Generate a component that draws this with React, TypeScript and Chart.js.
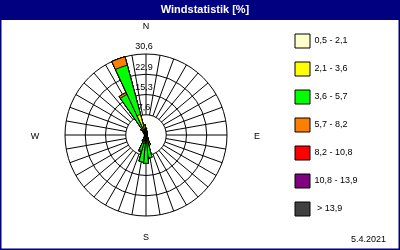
import React, { useEffect, useRef } from 'react';
import { Chart, registerables } from 'chart.js';

Chart.register(...registerables);

// ---------- data ----------
const DIRECTIONS = [0, 10, 20, 30, 40, 50, 60, 70, 80, 90, 100, 110, 120, 130, 140, 150, 160, 170,
  180, 190, 200, 210, 220, 230, 240, 250, 260, 270, 280, 290, 300, 310, 320, 330, 340, 350];

const CLASS_LABELS = ['0,5 - 2,1', '2,1 - 3,6', '3,6 - 5,7', '5,7 - 8,2', '8,2 - 10,8', '10,8 - 13,9', ' > 13,9'];
const CLASS_COLORS = ['#FFFFCC', '#FFFF00', '#00FF00', '#FF8000', '#FF0000', '#800080', '#404040'];

// share in % per direction (0°, 10°, ... 350°)
const SPEED_05_21 = [0.6, 0.5, 0.5, 0.4, 0.3, 0.3, 0.3, 0.3, 0.3, 0.3, 0.3, 0.3, 0.3, 0.3, 0.4, 0.5, 0.8, 1.0,
  1.0, 1.0, 0.8, 0.6, 0.5, 0.4, 0.4, 0.4, 0.4, 0.4, 0.4, 0.4, 0.5, 0.5, 0.6, 0.5, 0.6, 0.6];
const SPEED_21_36 = [1.2, 0.8, 0.5, 0.3, 0.2, 0.1, 0.1, 0.1, 0.1, 0.1, 0.1, 0.1, 0.1, 0.2, 0.3, 0.8, 1.5, 2.0,
  2.0, 2.0, 1.5, 1.0, 0.5, 0.2, 0.2, 0.2, 0.2, 0.2, 0.2, 0.2, 0.3, 0.6, 1.2, 2.5, 7.4, 2.9];
const SPEED_36_57 = [0.8, 0.3, 0.2, 0.1, 0, 0, 0, 0, 0, 0, 0, 0, 0, 0, 0, 0.5, 1.7, 5.7,
  7.7, 7.2, 3.8, 0.9, 0.2, 0, 0, 0, 0, 0, 0, 0, 0, 0.3, 1.0, 13.9, 19.3, 0.5];
const SPEED_57_82 = [0, 0, 0, 0, 0, 0, 0, 0, 0, 0, 0, 0, 0, 0, 0, 0, 0, 0,
  0, 0, 0.5, 0, 0, 0, 0, 0, 0, 0, 0, 0, 0, 0, 0, 0.8, 3.3, 0];
const SPEED_82_108 = [0, 0, 0, 0, 0, 0, 0, 0, 0, 0, 0, 0, 0, 0, 0, 0, 0, 0,
  0, 0, 0, 0, 0, 0, 0, 0, 0, 0, 0, 0, 0, 0, 0, 0, 0, 0];
const SPEED_108_139 = [0, 0, 0, 0, 0, 0, 0, 0, 0, 0, 0, 0, 0, 0, 0, 0, 0, 0,
  0, 0, 0, 0, 0, 0, 0, 0, 0, 0, 0, 0, 0, 0, 0, 0, 0, 0];
const SPEED_OVER_139 = [0, 0, 0, 0, 0, 0, 0, 0, 0, 0, 0, 0, 0, 0, 0, 0, 0, 0,
  0, 0, 0, 0, 0, 0, 0, 0, 0, 0, 0, 0, 0, 0, 0, 0, 0, 0];

const SPEED_CLASSES = [SPEED_05_21, SPEED_21_36, SPEED_36_57, SPEED_57_82, SPEED_82_108, SPEED_108_139, SPEED_OVER_139];

const SCALE_MAX = 30.6;
const TICK_LABELS = ['7,6', '15,3', '22,9', '30,6'];
const TITLE = 'Windstatistik [%]';
const COMPASS_N = 'N';
const COMPASS_S = 'S';
const COMPASS_W = 'W';
const COMPASS_E = 'E';
const DATE_LABEL = '5.4.2021';

const FONT = '"Liberation Sans", Arial, sans-serif';
const NAVY = '#000080';

// stacked (cumulative) values, one ring-sector series per class
const cumulative = SPEED_CLASSES.map((_, k) =>
  DIRECTIONS.map((__, i) => {
    let s = 0;
    for (let j = 0; j <= k; j++) s += SPEED_CLASSES[j][i];
    return Math.round(s * 100) / 100;
  })
);

const rosePlugin = {
  id: 'rosePlugin',
  beforeDraw(chart: any) {
    const { ctx, width, height } = chart;
    ctx.save();
    ctx.fillStyle = '#ffffff';
    ctx.fillRect(0, 0, width, height);
    ctx.fillStyle = NAVY;
    ctx.fillRect(0, 0, width, 20);
    ctx.fillRect(0, 0, 1.5, height);
    ctx.fillRect(width - 1.5, 0, 1.5, height);
    ctx.fillRect(0, height - 1.5, width, 1.5);
    ctx.fillStyle = '#ffffff';
    ctx.font = `bold 11px ${FONT}`;
    ctx.textAlign = 'center';
    ctx.textBaseline = 'middle';
    ctx.fillText(TITLE, width / 2 + 5, 10);
    ctx.restore();
  },
  beforeDatasetsDraw(chart: any) {
    const { ctx } = chart;
    const scale = chart.scales.r;
    const r0 = scale.getDistanceFromCenterForValue(scale.ticks[1].value);
    const r1 = scale.drawingArea;
    ctx.save();
    ctx.strokeStyle = '#000';
    ctx.lineWidth = 1;
    ctx.beginPath();
    DIRECTIONS.forEach((d) => {
      const a = (d * Math.PI) / 180;
      ctx.moveTo(scale.xCenter + r0 * Math.sin(a), scale.yCenter - r0 * Math.cos(a));
      ctx.lineTo(scale.xCenter + r1 * Math.sin(a), scale.yCenter - r1 * Math.cos(a));
    });
    ctx.stroke();
    ctx.restore();
  },
  afterDraw(chart: any) {
    const { ctx, width } = chart;
    const scale = chart.scales.r;
    ctx.save();
    ctx.fillStyle = '#000';
    ctx.font = `9px ${FONT}`;
    ctx.textAlign = 'center';
    ctx.textBaseline = 'middle';
    scale.ticks.forEach((tick: any, i: number) => {
      if (i === 0) return;
      const r = scale.getDistanceFromCenterForValue(tick.value);
      ctx.fillText(TICK_LABELS[i - 1], scale.xCenter - 2, scale.yCenter - r - 7);
    });
    const off = scale.drawingArea + 30;
    ctx.fillText(COMPASS_W, scale.xCenter - off, scale.yCenter + 2);
    ctx.fillText(COMPASS_E, scale.xCenter + off, scale.yCenter + 2);
    ctx.textAlign = 'right';
    ctx.fillText(DATE_LABEL, width - 14, 240);
    ctx.restore();
  },
};

export default function App() {
  const canvasRef = useRef<HTMLCanvasElement | null>(null);

  useEffect(() => {
    document.body.style.margin = '0';
    const canvas = canvasRef.current;
    if (!canvas) return;
    const chart = new Chart(canvas, {
      type: 'polarArea',
      data: {
        labels: DIRECTIONS.map((d) => String(d)),
        datasets: cumulative.map((values, k) => ({
          label: CLASS_LABELS[k],
          data: values,
          backgroundColor: CLASS_COLORS[k],
          borderColor: '#000000',
          borderWidth: 1,
        })),
      },
      options: {
        responsive: false,
        maintainAspectRatio: false,
        animation: false,
        devicePixelRatio: 1,
        events: [],
        layout: { padding: { top: 20, left: 11, right: 37, bottom: 0 } },
        scales: {
          r: {
            min: 0,
            max: SCALE_MAX,
            startAngle: -5,
            ticks: { display: false, count: 5 },
            grid: { circular: true, color: '#000000', lineWidth: 1 },
            angleLines: { display: false },
            pointLabels: { display: false },
          },
        },
        plugins: {
          title: {
            display: true,
            text: COMPASS_N,
            position: 'top',
            fullSize: false,
            color: '#000',
            font: { family: FONT, size: 9, weight: 'normal' },
            padding: { top: 1.6, bottom: 21.6 },
          },
          subtitle: {
            display: true,
            text: COMPASS_S,
            position: 'bottom',
            fullSize: false,
            color: '#000',
            font: { family: FONT, size: 9, weight: 'normal' },
            padding: { top: 16.6, bottom: 6.6 },
          },
          legend: {
            display: true,
            position: 'right',
            align: 'start',
            maxWidth: 82,
            labels: {
              boxWidth: 15,
              boxHeight: 14,
              padding: 14,
              color: '#000',
              font: { family: FONT, size: 9 },
              generateLabels: () =>
                CLASS_LABELS.map((text, i) => ({
                  text,
                  fillStyle: CLASS_COLORS[i],
                  strokeStyle: '#000',
                  lineWidth: 1,
                  hidden: false,
                  datasetIndex: i,
                  fontColor: '#000',
                })),
            },
          },
          tooltip: { enabled: false },
        },
      } as any,
      plugins: [rosePlugin],
    });
    return () => chart.destroy();
  }, []);

  return (
    <div style={{ width: 400, height: 250 }}>
      <canvas ref={canvasRef} width={400} height={250} style={{ display: 'block', width: 400, height: 250 }} />
    </div>
  );
}
